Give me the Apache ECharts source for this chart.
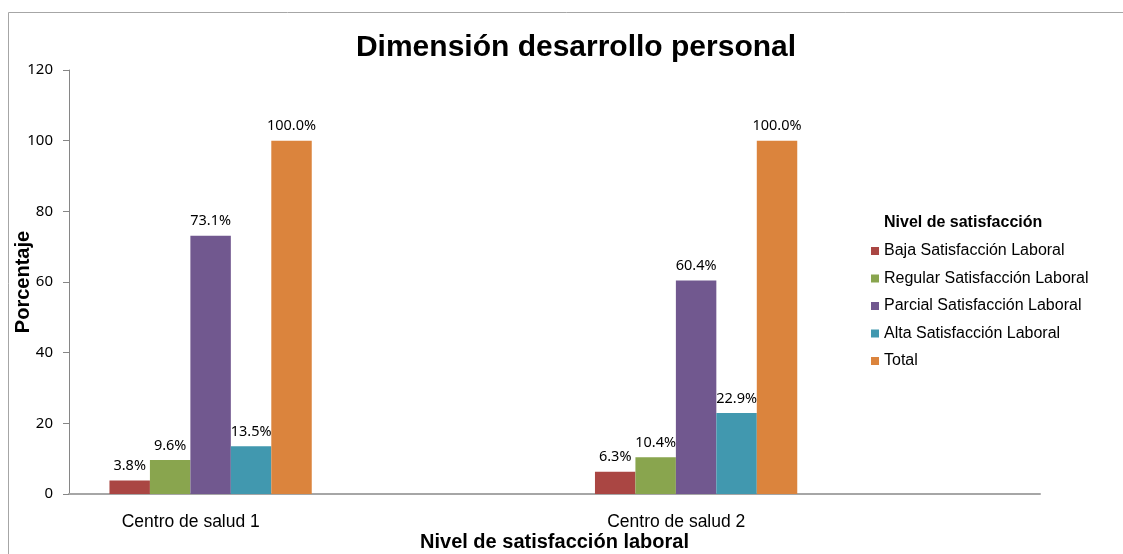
<!DOCTYPE html>
<html>
<head>
<meta charset="utf-8">
<script src="https://cdn.jsdelivr.net/npm/echarts@6/dist/echarts.min.js"></script>
<style>
  html, body { margin: 0; padding: 0; background: #fff; }
  #chart { width: 1123px; height: 554px; }
</style>
</head>
<body>
<div id="chart"></div>
<script>
// categorias y series
var categories = ['Centro de salud 1', 'Centro de salud 2']
var seriesNames = ['Baja Satisfacción Laboral', 'Regular Satisfacción Laboral', 'Parcial Satisfacción Laboral', 'Alta Satisfacción Laboral', 'Total']
var baja = [3.8, 6.3]
var regular = [9.6, 10.4]
var parcial = [73.1, 60.4]
var alta = [13.5, 22.9]
var total = [100.0, 100.0]
var yTicks = [0, 20, 40, 60, 80, 100, 120]

var colors = ['#AA4643', '#89A54E', '#71588F', '#4198AF', '#DB843D']
var values = [baja, regular, parcial, alta, total]

var series = values.map(function (v, i) {
  return {
    name: seriesNames[i],
    type: 'bar',
    data: v,
    barGap: '0%',
    barCategoryGap: '16.67%',
    itemStyle: { color: colors[i] },
    label: {
      show: true,
      position: 'top',
      distance: 7,
      fontFamily: 'Noto Sans',
      fontSize: 14.5,
      color: '#000',
      formatter: function (p) { return p.value.toFixed(1) + '%' }
    }
  }
})
// huecos vacios que ocupa el grafico original a la derecha de cada grupo
for (var k = 0; k < 5; k++) {
  series.push({ name: 'vacio' + k, type: 'bar', data: [null, null], barGap: '0%', barCategoryGap: '16.67%' })
}

var myChart = echarts.init(document.getElementById('chart'))
myChart.setOption({
  animation: false,
  textStyle: { fontFamily: 'Liberation Sans' },
  graphic: [{
    type: 'rect',
    shape: { x: 8.5, y: 12.5, width: 1140, height: 560 },
    style: { fill: 'none', stroke: '#a6a6a6', lineWidth: 1 },
    z: -1
  }],
  title: [{
    text: 'Dimensión desarrollo personal',
    left: 571,
    textAlign: 'center',
    top: 28,
    textStyle: { fontSize: 30, fontWeight: 'bold', color: '#000', fontFamily: 'Liberation Sans' }
  }, {
    text: 'Nivel de satisfacción',
    left: 879,
    top: 210,
    textStyle: { fontSize: 16, fontWeight: 'bold', color: '#000', fontFamily: 'Liberation Sans' }
  }],
  legend: {
    orient: 'vertical',
    left: 866,
    top: 238,
    data: seriesNames,
    itemWidth: 8,
    itemHeight: 8,
    itemGap: 11.5,
    icon: 'rect',
    textStyle: { fontSize: 16, color: '#000', fontFamily: 'Liberation Sans' }
  },
  grid: {
    left: 69,
    right: 83,
    top: 70,
    bottom: 60,
    containLabel: false,
    outerBoundsMode: 'none'
  },
  xAxis: {
    type: 'category',
    data: categories,
    name: 'Nivel de satisfacción laboral',
    nameLocation: 'middle',
    nameGap: 38,
    nameMoveOverlap: false,
    nameTextStyle: { fontSize: 20, fontWeight: 'bold', color: '#000', fontFamily: 'Liberation Sans' },
    axisTick: { show: false },
    axisLine: { lineStyle: { color: '#a6a6a6', width: 2 } },
    axisLabel: {
      color: '#000',
      fontSize: 17.5,
      fontFamily: 'Liberation Sans',
      margin: 19,
      padding: [0, 242, 0, 0]
    }
  },
  yAxis: {
    type: 'value',
    min: yTicks[0],
    max: yTicks[yTicks.length - 1],
    interval: 20,
    name: 'Porcentaje',
    nameLocation: 'middle',
    nameGap: 36,
    nameMoveOverlap: false,
    nameTextStyle: { fontSize: 20, fontWeight: 'bold', color: '#000', fontFamily: 'Liberation Sans' },
    axisLine: { show: true, lineStyle: { color: '#868686', width: 1 } },
    axisTick: { show: true, length: 6, lineStyle: { color: '#868686' } },
    splitLine: { show: false },
    axisLabel: {
      color: '#000',
      fontSize: 15,
      fontFamily: 'Noto Sans',
      margin: 16
    }
  },
  series: series
})
</script>
</body>
</html>
